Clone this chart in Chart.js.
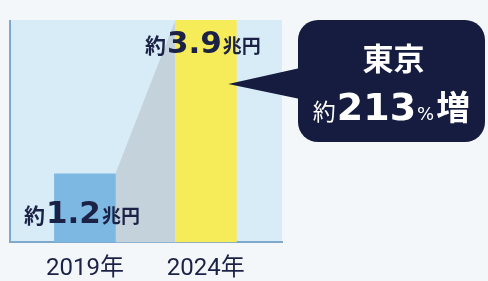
<!DOCTYPE html>
<html>
<head>
<meta charset="utf-8">
<script src="https://cdn.jsdelivr.net/npm/chart.js@4/dist/chart.umd.min.js"></script>
<style>
  html, body { margin: 0; padding: 0; background: #f3f7f9; }
  #wrap { width: 488px; height: 281px; }
</style>
</head>
<body>
<div id="wrap"><canvas id="growthChart"></canvas></div>
<script>
// Tokyo market size, 2019 vs 2024 (trillion yen)
const years = ['2019年', '2024年'];
const values = [1.2, 3.9];
const barColors = ['#7cb8e1', '#f6ec5a'];
const calloutTitle = '東京';
const calloutRate = '213';

const NAVY = '#1c2146';
const JP = '"Noto Sans CJK JP", sans-serif';
const NUM = '"DejaVu Sans", sans-serif';

// draw a run of text pieces with different fonts, centered on cx
function drawRun(ctx, parts, cx, baseline, color) {
    ctx.save();
    ctx.fillStyle = color;
    ctx.textBaseline = 'alphabetic';
    ctx.textAlign = 'left';
    let total = 0;
    parts.forEach(p => { ctx.font = p.font; p.w = ctx.measureText(p.text).width; total += p.w + (p.gap || 0); });
    let x = cx - total / 2;
    parts.forEach(p => {
        ctx.font = p.font;
        ctx.fillText(p.text, x, baseline);
        x += p.w + (p.gap || 0);
    });
    ctx.restore();
}

const decorPlugin = {
    id: 'decor',
    beforeDraw(chart) {
        const { ctx, chartArea: a } = chart;
        ctx.save();
        ctx.fillStyle = '#d7ecf6';
        ctx.fillRect(a.left, a.top, a.right - a.left, a.bottom - a.top);
        ctx.strokeStyle = '#7fa9cc';
        ctx.lineWidth = 2;
        ctx.beginPath();
        ctx.moveTo(a.left, a.top);
        ctx.lineTo(a.left, a.bottom);
        ctx.stroke();
        ctx.restore();
    },
    beforeDatasetsDraw(chart) {
        // grey band linking the two bar tops
        const { ctx } = chart;
        const bars = chart.getDatasetMeta(0).data;
        const b0 = bars[0], b1 = bars[1];
        ctx.save();
        ctx.fillStyle = '#c4d2dc';
        ctx.beginPath();
        ctx.moveTo(b0.x + b0.width / 2, b0.y);
        ctx.lineTo(b1.x - b1.width / 2, b1.y);
        ctx.lineTo(b1.x - b1.width / 2, b1.base);
        ctx.lineTo(b0.x + b0.width / 2, b0.base);
        ctx.closePath();
        ctx.fill();
        ctx.restore();
    },
    afterDatasetsDraw(chart) {
        const { ctx, chartArea: a } = chart;
        const bars = chart.getDatasetMeta(0).data;
        const offsets = [49, 33];

        bars.forEach((bar, i) => {
            drawRun(ctx, [
                { text: '約', font: `bold 21px ${JP}`, gap: 1 },
                { text: values[i].toFixed(1), font: `bold 31px ${NUM}`, gap: 1 },
                { text: '兆円', font: `bold 19px ${JP}` }
            ], bar.x - 3, bar.y + offsets[i], NAVY);
        });

        // callout box
        const last = bars[bars.length - 1];
        const left = a.right + 16, right = chart.width - 3;
        const top = a.top, bottom = 142, r = 20;
        const tipX = last.x + last.width / 2 - 8, tipY = 84;
        ctx.save();
        ctx.fillStyle = '#161b40';
        ctx.beginPath();
        ctx.roundRect(left, top, right - left, bottom - top, r);
        ctx.fill();
        ctx.beginPath();
        ctx.moveTo(left + 2, 68);
        ctx.lineTo(tipX, tipY);
        ctx.lineTo(left + 2, 99);
        ctx.closePath();
        ctx.fill();
        ctx.restore();

        const cx = (left + right) / 2;
        drawRun(ctx, [{ text: calloutTitle, font: `bold 31px ${JP}` }], cx + 2, 70, '#ffffff');
        drawRun(ctx, [
            { text: '約', font: `23px ${JP}`, gap: 1 },
            { text: calloutRate, font: `bold 38px ${NUM}`, gap: 1 },
            { text: '%', font: `18px ${NUM}`, gap: 2 },
            { text: '増', font: `bold 34px ${JP}` }
        ], cx, 120, '#ffffff');
    }
};

new Chart(document.getElementById('growthChart'), {
    type: 'bar',
    data: {
        datasets: [{
            data: values.map((v, i) => ({ x: i, y: v })),
            backgroundColor: barColors,
            borderWidth: 0,
            barThickness: 61
        }]
    },
    options: {
        responsive: true,
        maintainAspectRatio: false,
        animation: false,
        layout: { padding: { left: 10, top: 20, right: 206, bottom: -14 } },
        plugins: { legend: { display: false }, tooltip: { enabled: false } },
        scales: {
            x: {
                type: 'linear',
                offset: false,
                min: -0.62,
                max: 1.63,
                afterBuildTicks: axis => { axis.ticks = years.map((_, i) => ({ value: i })); },
                grid: { display: false, drawTicks: false },
                border: { display: true, color: '#7fa9cc', width: 2 },
                ticks: {
                    color: NAVY,
                    padding: 12,
                    font: { family: 'Roboto, "Noto Sans CJK JP", sans-serif', size: 24 },
                    callback: v => years[v]
                }
            },
            y: {
                display: false,
                min: 0,
                max: 3.9
            }
        }
    },
    plugins: [decorPlugin]
});
</script>
</body>
</html>
